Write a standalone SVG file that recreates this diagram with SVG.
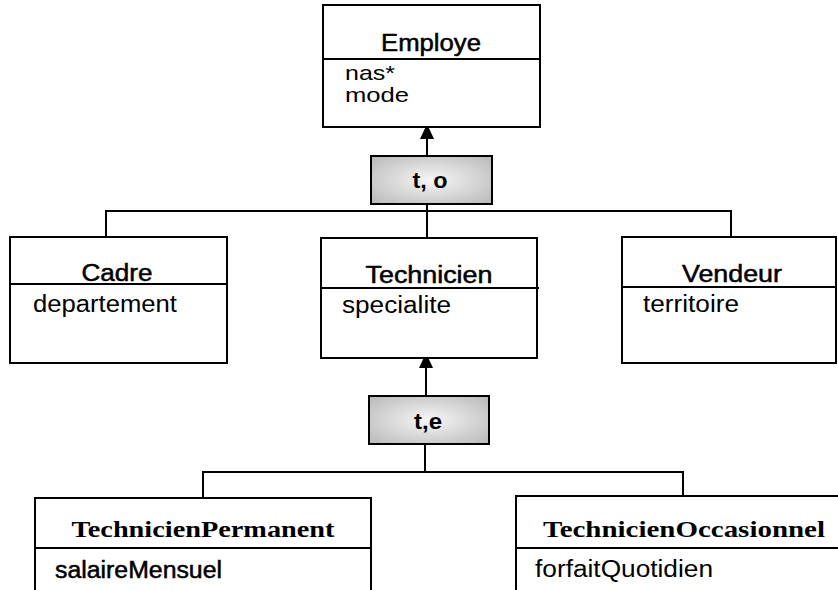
<svg xmlns="http://www.w3.org/2000/svg" width="838" height="590" viewBox="0 0 838 590">
  <defs>
    <radialGradient id="shade" cx="0.5" cy="0.5" r="0.7">
      <stop offset="0" stop-color="#f6f6f6"/>
      <stop offset="1" stop-color="#b8b8b8"/>
    </radialGradient>
    <marker id="arrow" markerUnits="userSpaceOnUse" markerWidth="15" markerHeight="14" viewBox="0 0 15 14" refX="15" refY="7" orient="auto">
      <path d="M0,0 L15,7 L0,14 z" fill="#000"/>
    </marker>
    <style>
      .box { fill: #fff; stroke: #000; stroke-width: 2; }
      .tag { fill: url(#shade); stroke: #000; stroke-width: 2; }
      .div { stroke: #000; stroke-width: 2; }
      .link { fill: none; stroke: #000; stroke-width: 2; }
      .head { font-family: "Liberation Sans", Arial, sans-serif; font-size: 23px; fill: #000; stroke: #000; stroke-width: 0.5; text-anchor: middle; }
      .attr { font-family: "Liberation Sans", Arial, sans-serif; font-size: 23px; fill: #000; }
      .attrs { font-family: "Liberation Sans", Arial, sans-serif; font-size: 21px; fill: #000; }
      .attrb { font-family: "Liberation Sans", Arial, sans-serif; font-size: 23px; fill: #000; stroke: #000; stroke-width: 0.5; }
      .serif { font-family: "Liberation Serif", "Times New Roman", serif; font-size: 24px; font-weight: bold; fill: #000; text-anchor: middle; }
      .lbl { font-family: "Liberation Sans", Arial, sans-serif; font-size: 22px; font-weight: bold; fill: #000; text-anchor: middle; }
    </style>
  </defs>

  <g id="connectors">
    <line class="link" x1="427" y1="156" x2="427" y2="124" marker-end="url(#arrow)"/>
    <line class="link" x1="427" y1="204" x2="427" y2="238"/>
    <polyline class="link" points="106,237 106,211 731,211 731,237"/>
    <line class="link" x1="426" y1="396" x2="426" y2="353" marker-end="url(#arrow)"/>
    <line class="link" x1="425" y1="444" x2="425" y2="472"/>
    <polyline class="link" points="203,498 203,472 683,472 683,496"/>
  </g>

  <g id="employe">
    <rect class="box" x="323" y="5" width="217" height="122"/>
    <line class="div" x1="323" y1="59" x2="540" y2="59"/>
    <text class="head" x="431" y="51" textLength="100" lengthAdjust="spacingAndGlyphs">Employe</text>
    <text class="attrs" x="345" y="80" textLength="50" lengthAdjust="spacingAndGlyphs">nas*</text>
    <text class="attrs" x="345" y="102" textLength="64" lengthAdjust="spacingAndGlyphs">mode</text>
  </g>

  <g id="gen-to">
    <rect class="tag" x="371" y="156" width="121" height="48"/>
    <text class="lbl" x="430" y="188" textLength="35" lengthAdjust="spacingAndGlyphs">t, o</text>
  </g>

  <g id="cadre">
    <rect class="box" x="10" y="237" width="217" height="126"/>
    <line class="div" x1="10" y1="284" x2="227" y2="284"/>
    <text class="head" x="117" y="281" textLength="71" lengthAdjust="spacingAndGlyphs">Cadre</text>
    <text class="attr" x="33" y="312" textLength="144" lengthAdjust="spacingAndGlyphs">departement</text>
  </g>

  <g id="technicien">
    <rect class="box" x="321" y="238" width="216" height="120"/>
    <line class="div" x1="321" y1="288" x2="539" y2="288"/>
    <text class="head" x="429" y="283" textLength="127" lengthAdjust="spacingAndGlyphs">Technicien</text>
    <text class="attr" x="342" y="313" textLength="109" lengthAdjust="spacingAndGlyphs">specialite</text>
  </g>

  <g id="vendeur">
    <rect class="box" x="622" y="237" width="214" height="126"/>
    <line class="div" x1="622" y1="287" x2="836" y2="287"/>
    <text class="head" x="732" y="282" textLength="100" lengthAdjust="spacingAndGlyphs">Vendeur</text>
    <text class="attr" x="643" y="312" textLength="96" lengthAdjust="spacingAndGlyphs">territoire</text>
  </g>

  <g id="gen-te">
    <rect class="tag" x="369" y="396" width="120" height="48"/>
    <text class="lbl" x="428" y="429" textLength="28" lengthAdjust="spacingAndGlyphs">t,e</text>
  </g>

  <g id="technicien-permanent">
    <rect class="box" x="35" y="498" width="336" height="110"/>
    <line class="div" x1="35" y1="548" x2="371" y2="548"/>
    <text class="serif" x="203" y="537" textLength="263" lengthAdjust="spacingAndGlyphs">TechnicienPermanent</text>
    <text class="attrb" x="55" y="578" textLength="167" lengthAdjust="spacingAndGlyphs">salaireMensuel</text>
  </g>

  <g id="technicien-occasionnel">
    <rect class="box" x="516" y="496" width="340" height="110"/>
    <line class="div" x1="516" y1="548" x2="856" y2="548"/>
    <text class="serif" x="684" y="537" textLength="282" lengthAdjust="spacingAndGlyphs">TechnicienOccasionnel</text>
    <text class="attr" x="535" y="577" textLength="178" lengthAdjust="spacingAndGlyphs">forfaitQuotidien</text>
  </g>
</svg>
